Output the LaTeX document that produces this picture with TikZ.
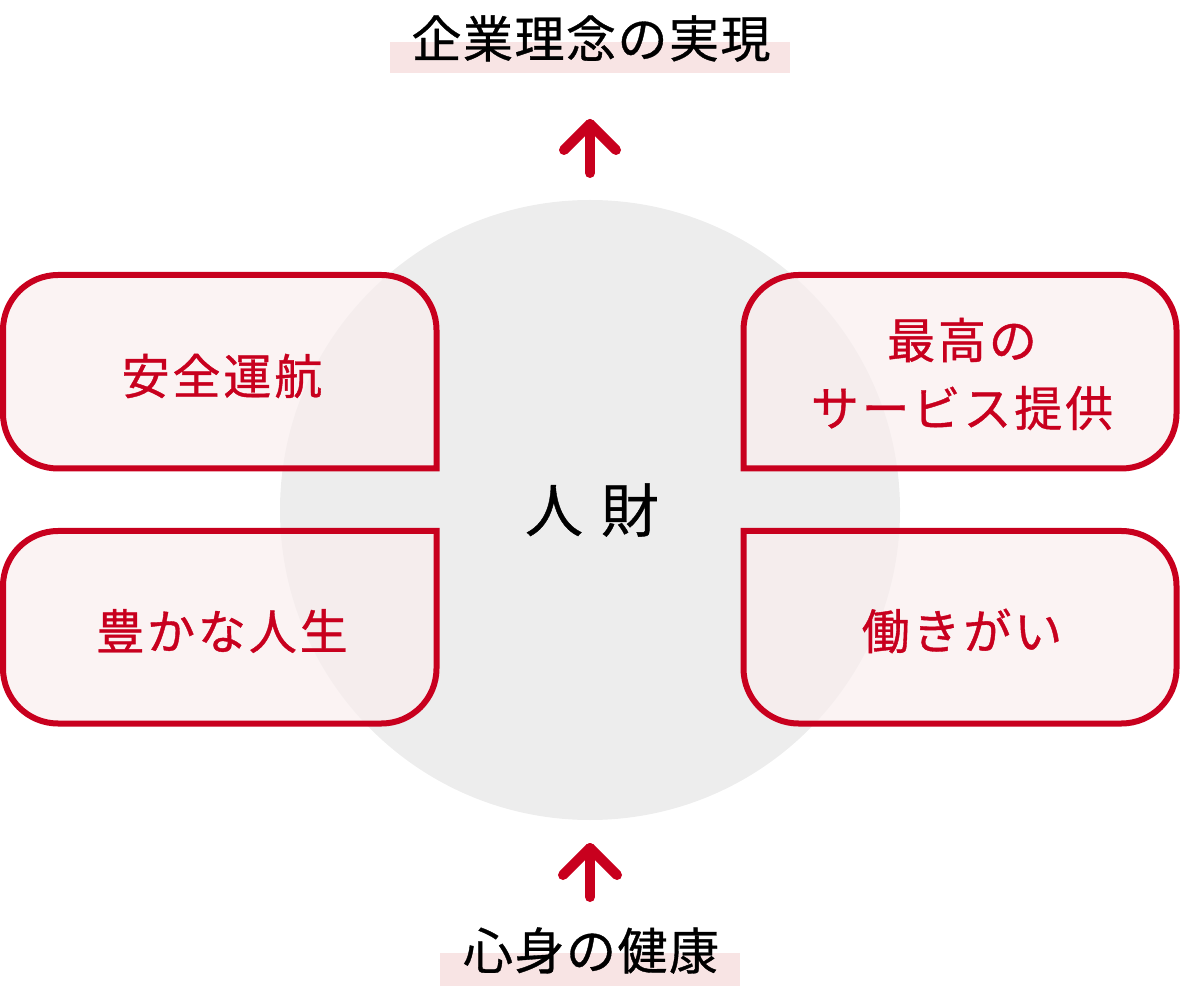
\documentclass[tikz,border=0pt]{standalone}
\usepackage{fontspec}
\setmainfont{Noto Sans CJK JP}
\definecolor{brandred}{RGB}{200,0,30}
\definecolor{boxfill}{RGB}{249,237,237}
\definecolor{coregrey}{RGB}{237,237,237}
\definecolor{barpink}{RGB}{248,228,228}
\tikzset{
  framebox/.style={draw=brandred, line width=6pt, fill=boxfill, fill opacity=0.67, line join=miter},
  boxtext/.style={text=brandred, inner sep=0pt, align=center,
    font=\fontsize{48pt}{68pt}\selectfont\addfontfeatures{LetterSpace=6,FakeBold=0.8}},
  titletext/.style={text=black, inner sep=0pt,
    font=\fontsize{50pt}{60pt}\selectfont\addfontfeatures{LetterSpace=3,FakeBold=0.7}},
  coretext/.style={text=black, inner sep=0pt, font=\fontsize{58pt}{66pt}\selectfont\addfontfeatures{FakeBold=0.7}},
  uparrow/.style={draw=brandred, line width=10pt, line cap=round, line join=round},
  bar/.style={fill=barpink, draw=none}
}
\begin{document}
\begin{tikzpicture}[x=1pt,y=1pt]
\useasboundingbox (0,0) rectangle (1180,986);

% central circle
\node[circle, fill=coregrey, draw=none, minimum size=620pt, inner sep=0pt] (core) at (590,476) {};

% highlight bars
\fill[bar] (390,913) rectangle (790,944);
\fill[bar] (440,0) rectangle (740,33);

% boxes
% left top (sharp bottom-right)
\path[framebox] (436.5,517.5) -- (436.5,656) arc[start angle=0,end angle=90,radius=55pt]
  -- (58,711) arc[start angle=90,end angle=180,radius=55pt]
  -- (3,572.5) arc[start angle=180,end angle=270,radius=55pt] -- cycle;
% right top (sharp bottom-left)
\path[framebox] (743.5,517.5) -- (1121.5,517.5) arc[start angle=270,end angle=360,radius=55pt]
  -- (1176.5,656) arc[start angle=0,end angle=90,radius=55pt]
  -- (798.5,711) arc[start angle=90,end angle=180,radius=55pt] -- cycle;
% left bottom (sharp top-right)
\path[framebox] (436.5,455) -- (58,455) arc[start angle=90,end angle=180,radius=55pt]
  -- (3,317.5) arc[start angle=180,end angle=270,radius=55pt]
  -- (381.5,262.5) arc[start angle=270,end angle=360,radius=55pt] -- cycle;
% right bottom (sharp top-left)
\path[framebox] (743.5,455) -- (743.5,317.5) arc[start angle=180,end angle=270,radius=55pt]
  -- (1121.5,262.5) arc[start angle=270,end angle=360,radius=55pt]
  -- (1176.5,400) arc[start angle=0,end angle=90,radius=55pt] -- cycle;

% box texts
\node[boxtext] (safety) at (222,610) {安全運航};
\node[boxtext] (service) at (962,612) {最高の\\サービス提供};
\node[boxtext] (life) at (222,355) {豊かな人生};
\node[boxtext] (work) at (962,355) {働きがい};

% core text
\node[coretext] (jinzai) at (592,476) {人\hspace{18pt}財};

% titles
\node[titletext] (goal) at (591,947.5) {企業理念の実現};
\node[titletext] (health) at (591,35.5) {心身の健康};

% arrows
\coordinate (topbase) at (590,813);
\coordinate (toptip) at (590,862);
\coordinate (topl) at (564,836);
\coordinate (topr) at (616,836);
\draw[uparrow] (topbase) -- (toptip);
\draw[uparrow] (topl) -- (toptip) -- (topr);

\coordinate (botbase) at (590,89);
\coordinate (bottip) at (590,138);
\coordinate (botl) at (563,111);
\coordinate (botr) at (617,111);
\draw[uparrow] (botbase) -- (bottip);
\draw[uparrow] (botl) -- (bottip) -- (botr);
\end{tikzpicture}
\end{document}
